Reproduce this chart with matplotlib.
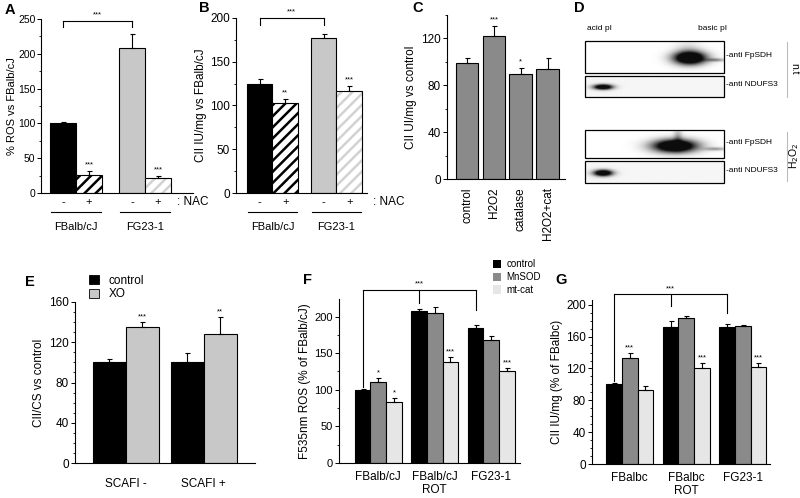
import numpy as np
import matplotlib.pyplot as plt
from matplotlib.patches import Rectangle
from matplotlib.ticker import MultipleLocator

plt.rcParams['font.family'] = ['Liberation Sans', 'DejaVu Sans']
plt.rcParams['hatch.linewidth'] = 1.8
plt.rcParams['axes.linewidth'] = 0.8

W, H = 800, 498

# ---- data ----
# A: ROS vs FBalb/cJ, -/+ NAC
a_groups = ['FBalb/cJ', 'FG23-1']
a_nac = ['-', '+']
a_vals = [100, 26, 209, 21]
a_errs = [2, 6, 19, 3]
a_stars = ['', '***', '', '***']

# B: CII IU/mg vs FBalb/cJ, -/+ NAC
b_vals = [125, 103, 177, 117]
b_errs = [5, 4, 5, 5]
b_stars = ['', '**', '', '***']

# C: CII UI/mg vs control
c_labels = ['control', 'H2O2', 'catalase', 'H2O2+cat']
c_vals = [99, 122, 90, 94]
c_errs = [4, 9, 5, 9]
c_stars = ['', '***', '*', '']

# E: CII/CS vs control
e_groups = ['SCAFI -', 'SCAFI +']
e_series = ['control', 'XO']
e_vals = [[100, 100], [135, 128]]
e_errs = [[3, 9], [5, 17]]
e_stars = [['', ''], ['***', '**']]

# F: F535nm ROS
f_groups = ['FBalb/cJ', 'FBalb/cJ\nROT', 'FG23-1']
fg_series = ['control', 'MnSOD', 'mt-cat']
f_vals = [[100, 208, 185], [111, 205, 168], [84, 138, 125]]
f_errs = [[1, 3, 3], [5, 8, 5], [5, 7, 5]]
f_stars = [['', '', ''], ['*', '', ''], ['*', '***', '***']]

# G: CII IU/mg (% of FBalbc)
g_groups = ['FBalbc', 'FBalbc\nROT', 'FG23-1']
g_vals = [[101, 172, 172], [133, 183, 173], [93, 121, 122]]
g_errs = [[1, 7, 4], [6, 3, 2], [5, 6, 5]]
g_stars = [['', '', ''], ['***', '', ''], ['', '***', '***']]

# D: blot bands (x, y, sx, sy, amplitude) in figure pixels
d_boxes = [(585, 41, 724, 73), (585, 76, 724, 97), (585, 130, 724, 158), (585, 161, 724, 183)]
d_bands = [
    [(690, 58, 11, 4.5, 1.8), (716, 60, 7, 1.2, 0.45), (688, 50, 9, 7, 0.15)],
    [(603, 87, 6.5, 1.8, 1.6)],
    [(675, 146, 15, 4.5, 1.8), (716, 149, 8, 1.2, 0.4), (678, 137, 3, 7, 0.3)],
    [(603, 173, 6.5, 2.2, 1.6)],
]
d_labels = ['-anti FpSDH', '-anti NDUFS3', '-anti FpSDH', '-anti NDUFS3']

fig = plt.figure(figsize=(W / 100, H / 100), dpi=100)


def px_axes(x0, y0, x1, y1):
    ax = fig.add_axes([x0 / W, 1 - y1 / H, (x1 - x0) / W, (y1 - y0) / H])
    ax.spines['top'].set_visible(False)
    ax.spines['right'].set_visible(False)
    ax.tick_params(axis='y', labelsize=8.5, length=3, width=0.7, pad=1.5)
    ax.tick_params(axis='y', which='minor', length=1.5, width=0.6)
    ax.tick_params(axis='x', length=0, labelsize=8)
    return ax


def bars(ax, x, vals, errs, color, hatch=None, hatchcolor='k'):
    if hatch:
        ax.bar(x, vals, width=1, color='white', edgecolor=hatchcolor, hatch=hatch, linewidth=0)
        ax.bar(x, vals, width=1, fill=False, edgecolor='k', linewidth=0.8)
    else:
        ax.bar(x, vals, width=1, color=color, edgecolor='k', linewidth=0.8)
    ax.errorbar(x, vals, yerr=[[0] * len(np.atleast_1d(vals)), errs], fmt='none',
                ecolor='k', elinewidth=0.8, capsize=1.8, capthick=0.8)


def stars(ax, x, vals, errs, marks, gap):
    for xi, v, e, s in zip(x, vals, errs, marks):
        if s:
            ax.text(xi, v + e + gap, s, ha='center', va='bottom', fontsize=5.5)


def below(ax, x, dy_px, s, **kw):
    ax.annotate(s, xy=(x, 0), xycoords=('data', 'axes fraction'),
                xytext=(0, -dy_px * 0.72), textcoords='offset points',
                va='center', annotation_clip=False, **kw)


def bracket(ax, xs, y, ends, label, star_dy):
    for xi, e in zip(xs, ends):
        ax.plot([xi, xi], [e, y], color='k', lw=0.8, clip_on=False)
    ax.plot([xs[0], xs[-1]], [y, y], color='k', lw=0.8, clip_on=False)
    ax.text(np.mean([xs[0], xs[-1]]) if len(xs) == 2 else xs[1], y + star_dy, label,
            ha='center', va='bottom', fontsize=5.5, clip_on=False)


def nac_axes(ax, first, spacing, vals, errs, colors, hatches, hatchcolors, ax_h):
    x = [first + g * spacing + j for g in range(len(a_groups)) for j in range(len(a_nac))]
    for i in range(len(x)):
        bars(ax, [x[i]], [vals[i]], [errs[i]], colors[i], hatches[i], hatchcolors[i])
    ax.set_xticks([])
    for i, xi in enumerate(x):
        below(ax, xi, 9, a_nac[i % 2], ha='center', fontsize=8)
    for g, name in enumerate(a_groups):
        x0 = first + g * spacing
        ax.plot([x0 - 0.45, x0 + 1.45], [-19 / ax_h] * 2, color='k', lw=0.8,
                transform=ax.get_xaxis_transform(), clip_on=False)
        below(ax, x0 + 0.5, 34, name, ha='center', fontsize=8)
    return x


# ---- A ----
axA = px_axes(41, 19, 193, 193)
xa = nac_axes(axA, 0.85, 2.65, a_vals, a_errs,
              ['black', 'white', '#c8c8c8', 'white'], [None, '///', None, '///'],
              ['k', 'k', 'k', '#d2d2d2'], 174)
axA.set_xlim(0, 152 / 26)
axA.set_ylim(0, 250)
axA.yaxis.set_major_locator(MultipleLocator(50))
axA.yaxis.set_minor_locator(MultipleLocator(25))
axA.tick_params(axis='y', labelsize=7.5, pad=1)
stars(axA, xa, a_vals, a_errs, a_stars, 4)
below(axA, (177 - 41) / 26, 9, ': NAC', ha='left', fontsize=8.5)
axA.set_ylabel('% ROS vs FBalb/cJ', fontsize=8)
axA.yaxis.set_label_coords(-0.16, 0.5)
bracket(axA, [xa[0], xa[2]], 247, [238, 238], '***', 4)

# ---- B ----
axB = px_axes(236, 18, 367, 193)
xb = nac_axes(axB, 0.93, 2.51, b_vals, b_errs,
              ['black', 'white', '#c8c8c8', 'white'], [None, '///', None, '///'],
              ['k', 'k', 'k', '#d2d2d2'], 175)
axB.set_xlim(0, 131 / 25.5)
axB.set_ylim(0, 200)
axB.yaxis.set_major_locator(MultipleLocator(50))
axB.yaxis.set_minor_locator(MultipleLocator(25))
stars(axB, xb, b_vals, b_errs, b_stars, 3)
below(axB, (373 - 236) / 25.5, 9, ': NAC', ha='left', fontsize=8.5)
axB.set_ylabel('CII IU/mg vs FBalb/cJ', fontsize=8.5, labelpad=2)
bracket(axB, [xb[0], xb[2]], 200, [192, 192], '***', 3)

# ---- C ----
axC = px_axes(447, 15, 565, 179)
xc = [0.75 + i for i in range(len(c_vals))]
bars(axC, xc, c_vals, c_errs, '#8a8a8a')
for b in axC.patches:
    b.set_width(0.85)
    b.set_x(b.get_x() + 0.075)
axC.set_xlim(0, 118 / 26.8)
axC.set_ylim(0, 140)
axC.set_yticks([0, 40, 80, 120])
axC.yaxis.set_minor_locator(MultipleLocator(20))
axC.set_xticks(xc)
axC.set_xticklabels(c_labels, rotation=90, fontsize=8.5)
axC.tick_params(axis='x', pad=6)
stars(axC, xc, c_vals, c_errs, c_stars, 2)
axC.set_ylabel('CII UI/mg vs control', fontsize=8.5, labelpad=3)

# ---- D ----
axD = fig.add_axes([0, 0, 1, 1])
axD.set_xlim(0, W)
axD.set_ylim(H, 0)
axD.axis('off')
for k, (x0, y0, x1, y1) in enumerate(d_boxes):
    gx, gy = np.meshgrid(np.linspace(x0, x1, 280), np.linspace(y0, y1, 60))
    img = np.zeros_like(gx)
    for cx, cy, sx, sy, amp in d_bands[k]:
        img += amp * np.exp(-((gx - cx) / sx) ** 2 / 2 - ((gy - cy) / sy) ** 2 / 2)
    img = np.clip(img + (0.04 if k % 2 else 0.0), 0, 1)
    axD.imshow(img, extent=(x0, x1, y1, y0), cmap='gray_r', vmin=0, vmax=1.05,
               aspect='auto', interpolation='bilinear')
    axD.add_patch(Rectangle((x0, y0), x1 - x0, y1 - y0, fill=False, ec='k', lw=0.9))
    axD.text(x1 + 2, (y0 + y1) / 2 - 2, d_labels[k], fontsize=6, va='center', ha='left')
axD.text(587, 28, 'acid pI', fontsize=6, va='center')
axD.text(698, 28, 'basic pI', fontsize=6, va='center')
axD.plot([787, 787], [42, 97], color='#bbbbbb', lw=0.8)
axD.plot([787, 787], [132, 181], color='#bbbbbb', lw=0.8)
axD.text(794, 69, 'n.t', fontsize=7.5, rotation=270, va='center', ha='center')
axD.text(794, 156, 'H$_2$O$_2$', fontsize=7.5, rotation=90, va='center', ha='center')
axD.set_zorder(-1)

# ---- E ----
axE = px_axes(75, 302, 255, 463)
e_colors = ['black', '#c8c8c8']
for s in range(len(e_series)):
    xe = [1.045 + g * 2.36 + s for g in range(len(e_groups))]
    bars(axE, xe, e_vals[s], e_errs[s], e_colors[s])
    stars(axE, xe, e_vals[s], e_errs[s], e_stars[s], 2)
    axE.add_patch(Rectangle((0, 0), 0, 0, fc=e_colors[s], ec='k', lw=0.6, label=e_series[s]))
axE.set_xlim(0, 180 / 33)
axE.set_ylim(0, 160)
axE.yaxis.set_major_locator(MultipleLocator(40))
axE.yaxis.set_minor_locator(MultipleLocator(10))
axE.set_xticks([1.545 + g * 2.36 for g in range(len(e_groups))])
axE.set_xticklabels(e_groups, fontsize=8.5)
axE.tick_params(axis='x', pad=11)
axE.set_ylabel('CII/CS vs control', fontsize=8.5, labelpad=3)
axE.legend(loc='lower left', bbox_to_anchor=(0.05, 0.98), frameon=False, fontsize=8.5,
           handlelength=0.9, handleheight=0.8, handletextpad=0.8, labelspacing=0.15,
           borderaxespad=0)

# ---- F and G ----
fg_colors = ['black', '#8a8a8a', '#e6e6e6']


def triple(ax, groups, vals, errs, marks, first, spacing, star_gap):
    xs_all = []
    for s in range(len(fg_series)):
        xs = [first + g * spacing + s for g in range(len(groups))]
        bars(ax, xs, vals[s], errs[s], fg_colors[s])
        stars(ax, xs, vals[s], errs[s], marks[s], star_gap)
        xs_all.append(xs)
    ax.set_xticks([first + g * spacing + 1 for g in range(len(groups))])
    ax.set_xticklabels(groups, fontsize=8.5, linespacing=1.1)
    return xs_all


axF = px_axes(339, 299, 520, 463)
xf = triple(axF, f_groups, f_vals, f_errs, f_stars, 1.5, 3.6, 2)
axF.set_xlim(0, 181 / 15.7)
axF.set_ylim(0, 224)
axF.yaxis.set_major_locator(MultipleLocator(50))
axF.yaxis.set_minor_locator(MultipleLocator(25))
axF.tick_params(axis='x', pad=6)
axF.tick_params(axis='y', labelsize=8)
axF.set_ylabel('F535nm ROS (% of FBalb/cJ)', fontsize=8.5, labelpad=2)
bracket(axF, xf[0], 236, [104, 218, 209], '***', 4)
for s, name in enumerate(fg_series):
    axF.add_patch(Rectangle((0, 0), 0, 0, fc=fg_colors[s], ec='none', label=name))
axF.legend(loc='lower left', bbox_to_anchor=(0.83, 1.0), frameon=False, fontsize=7,
           handlelength=0.8, handleheight=1.0, handletextpad=0.6, labelspacing=0.3,
           borderaxespad=0)

axG = px_axes(592, 300, 770, 464)
xg = triple(axG, g_groups, g_vals, g_errs, g_stars, 1.4, 3.6, 2)
axG.set_xlim(0, 178 / 15.7)
axG.set_ylim(0, 206)
axG.yaxis.set_major_locator(MultipleLocator(40))
axG.yaxis.set_minor_locator(MultipleLocator(10))
axG.tick_params(axis='x', pad=6)
axG.set_ylabel('CII IU/mg (% of FBalbc)', fontsize=8.5, labelpad=2)
bracket(axG, xg[0], 214, [104, 198, 190], '***', 1)

# panel letters
for letter, (px, py) in zip('ABCDEFG', [(5, 10), (199, 8), (412, 8), (574, 8),
                                       (25, 282), (303, 280), (555, 280)]):
    fig.text(px / W, 1 - py / H, letter, fontsize=10.5, fontweight='bold', va='center')

fig.savefig('out.png', dpi=100)
